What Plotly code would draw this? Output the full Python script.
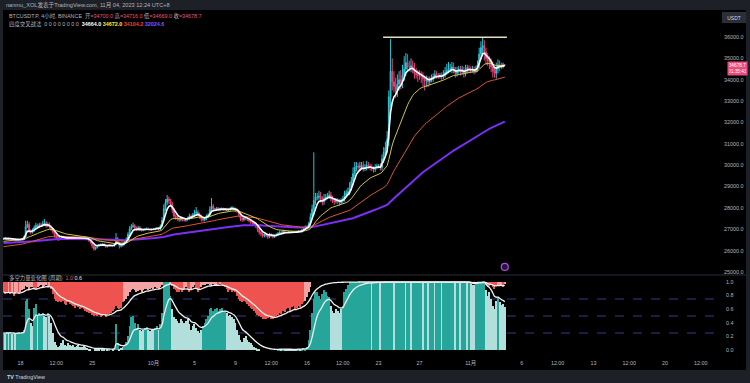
import pandas as pd
import plotly.graph_objects as go

# ---------------- data (BTCUSDT.P 4h) ----------------
first_open = 26550
closes = [
    26560, 26590, 26540, 26570,                      # 09-16 (from 08:00)
    26550, 26530, 26500, 26470, 26510, 26530,        # 09-17
    26520, 26550, 26640, 27120, 27230, 26920,        # 09-18
    26860, 26950, 27080, 27180, 27120, 27210,        # 09-19
    27180, 27250, 27300, 27160, 27220, 27100,        # 09-20
    27000, 26880, 26700, 26600, 26540, 26580,        # 09-21
    26600, 26630, 26580, 26550, 26610, 26580,        # 09-22
    26590, 26610, 26570, 26580, 26600, 26590,        # 09-23
    26580, 26600, 26570, 26540, 26480, 26400,        # 09-24
    26230, 26080, 26150, 26220, 26260, 26290,        # 09-25
    26300, 26250, 26190, 26230, 26260, 26210,        # 09-26
    26230, 26290, 26560, 26350, 26200, 26250,        # 09-27
    26300, 26420, 26540, 26760, 27020, 27130,        # 09-28
    27160, 27060, 27000, 27070, 26990, 26950,        # 09-29
    26980, 27010, 27030, 26990, 26970, 27000,        # 09-30
    27010, 27030, 27060, 27000, 27150, 27420,        # 10-01
    27960, 28260, 28410, 28330, 28180, 27900,        # 10-02
    27620, 27540, 27480, 27440, 27490, 27450,        # 10-03
    27420, 27460, 27510, 27610, 27560, 27660,        # 10-04
    27760, 27800, 27700, 27590, 27480, 27440,        # 10-05
    27500, 27610, 27660, 27920, 28080, 27960,        # 10-06
    27950, 27980, 27910, 27950, 27970, 27930,        # 10-07
    27950, 27900, 27920, 27980, 28010, 27960,        # 10-08
    27900, 27850, 27700, 27500, 27450, 27550,        # 10-09
    27500, 27450, 27400, 27340, 27300, 27250,        # 10-10
    27150, 27000, 26850, 26790, 26700, 26750,        # 10-11
    26700, 26640, 26750, 26700, 26650, 26700,        # 10-12
    26750, 26800, 26850, 26800, 26900, 26850,        # 10-13
    26850, 26870, 26850, 26880, 26860, 26870,        # 10-14
    26870, 26900, 26880, 26950, 27050, 27100,        # 10-15
    27100, 27250, 27600, 27950, 28350, 28500,        # 10-16
    28500, 28550, 28400, 28300, 28450, 28500,        # 10-17
    28550, 28600, 28450, 28350, 28300, 28350,        # 10-18
    28300, 28250, 28350, 28400, 28600, 28700,        # 10-19
    28750, 28950, 29250, 29600, 29900, 29950,        # 10-20
    29900, 29950, 30000, 29850, 29900, 30000,        # 10-21
    29950, 29900, 29850, 29800, 29900, 29950,        # 10-22
    29950, 29900, 30300, 30600, 30800, 31200,        # 10-23
    33200, 34400, 33900, 33700, 33500, 33800,        # 10-24
    34000, 33900, 34200, 34500, 34800, 34600,        # 10-25
    34600, 34650, 34500, 34300, 34250, 34200,        # 10-26
    34200, 34150, 34050, 33950, 34000, 33900,        # 10-27
    34000, 34050, 34150, 34250, 34200, 34150,        # 10-28
    34200, 34150, 34250, 34350, 34450, 34500,        # 10-29
    34500, 34600, 34450, 34300, 34400, 34500,        # 10-30
    34400, 34450, 34300, 34500, 34550, 34500,        # 10-31
    34450, 34500, 34400, 34500, 34700, 35200,        # 11-01
    35500, 35600, 35300, 35000, 34900, 34800,        # 11-02
    34600, 34400, 34300, 34500, 34700, 34650,        # 11-03
    34650, 34700, 34678.7,                           # 11-04
]
wick_up = [
    40, 50, 35, 45,
    30, 40, 35, 30, 45, 40,
    40, 50, 60, 280, 170, 120,
    80, 90, 100, 120, 80, 90,
    100, 150, 180, 100, 110, 90,
    80, 60, 80, 60, 50, 60,
    50, 60, 40, 50, 60, 40,
    30, 40, 35, 30, 40, 30,
    30, 40, 30, 35, 30, 40,
    50, 60, 50, 40, 50, 40,
    50, 40, 50, 40, 50, 40,
    40, 60, 260, 80, 60, 50,
    60, 70, 80, 100, 120, 110,
    150, 80, 70, 90, 80, 70,
    50, 40, 60, 40, 50, 40,
    40, 50, 40, 50, 80, 150,
    200, 150, 190, 120, 100, 90,
    100, 80, 90, 70, 80, 70,
    60, 70, 80, 120, 90, 100,
    150, 240, 100, 80, 90, 70,
    70, 80, 90, 150, 380, 100,
    50, 60, 50, 60, 50, 40,
    40, 60, 50, 60, 70, 50,
    60, 70, 80, 90, 80, 70,
    70, 60, 70, 60, 50, 60,
    60, 70, 60, 70, 60, 50,
    50, 60, 80, 60, 50, 60,
    60, 70, 80, 60, 80, 60,
    40, 50, 40, 50, 40, 30,
    40, 50, 40, 60, 70, 80,
    80, 100, 150, 200, 2250, 200,
    200, 250, 200, 150, 200, 150,
    150, 200, 150, 120, 100, 120,
    100, 120, 100, 150, 200, 150,
    200, 250, 200, 300, 250, 200,
    150, 200, 150, 180, 150, 200,
    150, 120, 150, 100, 150, 120,
    100, 150, 200, 250, 300, 400,
    300, 1500, 600, 500, 400, 450,
    400, 450, 500, 600, 450, 400,
    300, 350, 250, 300, 250, 200,
    250, 200, 200, 150, 200, 150,
    150, 200, 150, 200, 150, 120,
    120, 150, 200, 250, 300, 330,
    250, 230, 200, 150, 200, 150,
    150, 200, 150, 200, 150, 120,
    120, 150, 120, 150, 200, 300,
    300, 390, 250, 200, 250, 200,
    200, 250, 200, 300, 250, 200,
    150, 100, 16,
]
wick_dn = [
    40, 30, 45, 35,
    35, 30, 40, 50, 30, 35,
    40, 35, 50, 40, 60, 90,
    100, 60, 70, 60, 70, 50,
    60, 70, 80, 90, 60, 80,
    80, 90, 100, 80, 90, 60,
    40, 50, 60, 40, 50, 40,
    30, 35, 40, 30, 35, 30,
    30, 40, 35, 50, 60, 80,
    120, 90, 60, 50, 40, 50,
    40, 50, 60, 40, 50, 40,
    40, 50, 40, 60, 100, 50,
    60, 50, 60, 50, 70, 60,
    60, 70, 80, 60, 70, 60,
    40, 50, 40, 50, 40, 50,
    40, 50, 40, 60, 50, 60,
    80, 100, 120, 150, 120, 150,
    120, 90, 80, 90, 70, 80,
    60, 70, 60, 80, 70, 60,
    70, 80, 90, 100, 120, 80,
    70, 80, 60, 90, 100, 120,
    50, 40, 60, 50, 40, 50,
    50, 60, 40, 50, 60, 50,
    90, 80, 100, 120, 100, 80,
    80, 70, 80, 90, 80, 70,
    100, 120, 100, 120, 100, 80,
    80, 100, 60, 70, 80, 60,
    50, 60, 50, 60, 50, 60,
    40, 30, 40, 30, 40, 30,
    30, 40, 50, 40, 50, 60,
    60, 80, 100, 150, 300, 200,
    150, 120, 150, 180, 150, 120,
    100, 120, 150, 120, 150, 100,
    120, 150, 100, 120, 100, 120,
    120, 150, 150, 200, 150, 200,
    200, 150, 180, 150, 120, 150,
    120, 150, 120, 150, 120, 100,
    100, 150, 150, 200, 200, 250,
    300, 500, 400, 300, 350, 300,
    300, 350, 300, 250, 300, 250,
    200, 250, 200, 250, 200, 300,
    200, 300, 350, 450, 300, 250,
    150, 120, 150, 120, 150, 100,
    100, 150, 120, 150, 120, 150,
    150, 200, 150, 200, 150, 120,
    200, 150, 200, 150, 200, 150,
    150, 120, 150, 100, 120, 150,
    250, 300, 400, 300, 250, 300,
    250, 300, 200, 250, 200, 250,
    150, 120, 9.7,
]

# lower pane: green bar height (%) and red bar floor (%), per candle
buy_pct = [
    25, 24, 26, 25,
    26, 24, 25, 23, 25, 26,
    25, 26, 30, 72, 75, 60,
    40, 35, 62, 68, 50, 55,
    52, 55, 50, 48, 55, 50,
    40, 25, 12, 8, 5, 6,
    10, 14, 8, 6, 10, 8,
    6, 8, 5, 6, 7, 5,
    5, 6, 4, 3, 2, 1,
    0, 0, 1, 2, 2, 3,
    2, 1, 0, 1, 2, 0,
    1, 3, 38, 10, 2, 3,
    5, 8, 12, 20, 35, 48,
    50, 40, 32, 38, 30, 28,
    30, 32, 34, 30, 28, 30,
    30, 32, 35, 30, 38, 55,
    100, 100, 100, 100, 80, 60,
    48, 45, 42, 40, 45, 42,
    40, 42, 45, 38, 30, 35,
    38, 32, 28, 25, 30, 35,
    40, 45, 50, 60, 62, 58,
    60, 62, 58, 60, 62, 57,
    58, 55, 50, 52, 48, 45,
    40, 30, 22, 15, 12, 18,
    20, 15, 12, 10, 8, 5,
    3, 2, 1, 0, 0, 0,
    0, 0, 0, 0, 0, 0,
    0, 1, 2, 1, 2, 1,
    1, 1, 1, 1, 1, 1,
    1, 2, 1, 2, 3, 2,
    5, 15, 30, 55, 75, 85,
    85, 80, 75, 82, 88, 85,
    80, 78, 65, 58, 55, 60,
    58, 55, 60, 65, 85, 90,
    95, 100, 100, 100, 100, 100,
    100, 100, 99, 100, 100, 100,
    100, 100, 98, 100, 100, 100,
    100, 99, 100, 100, 100, 100,
    100, 100, 100, 99, 100, 100,
    100, 100, 100, 100, 99, 100,
    100, 99, 100, 100, 100, 100,
    100, 100, 99, 100, 100, 99,
    100, 100, 100, 99, 100, 100,
    100, 99, 100, 100, 100, 100,
    100, 100, 100, 99, 100, 100,
    99, 100, 100, 100, 98, 100,
    97, 95, 96, 98, 100, 100,
    100, 100, 100, 88, 80, 85,
    75, 65, 60, 72, 78, 70,
    66, 68, 63,
]
sell_floor_pct = [
    85, 82, 84, 86,
    83, 85, 80, 84, 86, 82,
    85, 88, 90, 94, 92, 90,
    92, 93, 90, 88, 92, 94,
    95, 93, 94, 96, 92, 94,
    90, 82, 75, 72, 70, 72,
    70, 72, 68, 66, 70, 68,
    66, 64, 62, 65, 63, 60,
    62, 60, 58, 56, 55, 54,
    52, 50, 52, 50, 51, 48,
    50, 52, 49, 51, 53, 55,
    58, 60, 65, 62, 60, 62,
    70, 72, 75, 80, 85, 88,
    90, 88, 85, 87, 88, 86,
    88, 90, 89, 88, 90, 91,
    90, 92, 91, 90, 93, 96,
    100, 100, 100, 100, 98, 94,
    90, 88, 86, 85, 88, 86,
    90, 92, 88, 85, 90, 92,
    95, 90, 85, 88, 92, 95,
    96, 97, 98, 95, 96, 97,
    95, 96, 94, 97, 95, 94,
    92, 90, 86, 88, 85, 87,
    85, 80, 75, 72, 70, 72,
    70, 68, 65, 62, 60, 58,
    55, 52, 50, 48, 46, 45,
    45, 47, 48, 46, 45, 47,
    50, 52, 55, 53, 58, 56,
    60, 62, 58, 63, 65, 60,
    62, 65, 63, 68, 70, 72,
    78, 85, 92, 100, 100, 100,
    100, 100, 100, 100, 100, 100,
    100, 100, 100, 100, 100, 100,
    100, 100, 100, 100, 100, 100,
    100, 100, 100, 100, 100, 100,
    100, 100, 100, 100, 100, 100,
    100, 100, 100, 100, 100, 100,
    100, 100, 100, 100, 100, 100,
    100, 100, 100, 100, 100, 100,
    100, 100, 100, 100, 100, 100,
    100, 100, 100, 100, 100, 100,
    100, 100, 100, 100, 100, 100,
    100, 100, 100, 100, 100, 100,
    100, 100, 100, 100, 100, 100,
    100, 100, 100, 100, 100, 100,
    100, 100, 100, 100, 100, 100,
    98, 97, 100, 98, 100, 100,
    100, 100, 100, 96, 92, 94,
    95, 92, 90, 94, 96, 95,
    96, 93, 97,
]

# moving averages (EMA lengths, starting values read at the left edge)
ma_lengths = [144, 55, 21, 5]
ma_seeds = [26355, 26170, 26420, 26560]
ma_colors = ["#7b2ff7", "#d9553b", "#cfc640", "#ffffff"]
ma_widths = [2.0, 1.0, 1.0, 1.6]
ma_header_values = ["34664.0", "34672.0", "34104.2", "32024.6"]
osc_length = 9

# horizontal drawing (resistance line)
level_price = 35990
level_dates = ["2023-10-23 10:30", "2023-11-04 13:00"]

price_ticks = [25000, 26000, 27000, 28000, 29000, 30000, 31000, 32000,
               33000, 34000, 35000, 36000]
osc_ticks = [0.0, 0.2, 0.4, 0.6, 0.8, 1.0]
osc_levels = [0.25, 0.5, 0.75]
tick_dates = ["2023-09-18", "2023-09-21 12:00", "2023-09-25", "2023-10-01",
              "2023-10-05", "2023-10-09", "2023-10-12 12:00", "2023-10-16",
              "2023-10-19 12:00", "2023-10-23", "2023-10-27", "2023-11-01",
              "2023-11-06", "2023-11-09 12:00", "2023-11-13", "2023-11-16 12:00",
              "2023-11-20", "2023-11-23 12:00"]
tick_labels = ["18", "12:00", "25", "10月", "5", "9", "12:00", "16", "12:00",
               "23", "27", "11月", "6", "12:00", "13", "12:00", "20", "12:00"]

# ---------------- derived ----------------
n = len(closes)
for name, arr in [("wick_up", wick_up), ("wick_dn", wick_dn),
                  ("buy_pct", buy_pct), ("sell_floor_pct", sell_floor_pct)]:
    assert len(arr) == n, f"{name}: {len(arr)} != {n}"

times = pd.date_range("2023-09-16 08:00", periods=n, freq="4h")
opens = [first_open] + closes[:-1]
highs = [max(o, c) + w for o, c, w in zip(opens, closes, wick_up)]
lows = [min(o, c) - w for o, c, w in zip(opens, closes, wick_dn)]


def ema(vals, length, seed):
    a = 2.0 / (length + 1)
    out, e = [], seed
    for v in vals:
        e += a * (v - e)
        out.append(e)
    return out


buy = [v / 100 for v in buy_pct]
sell_floor = [v / 100 for v in sell_floor_pct]
buy_line = ema(buy, osc_length, buy[0])
sell_line = ema(sell_floor, osc_length, sell_floor[0])

G_DARK, G_LIGHT = "#26a69a", "#b2dfdb"
R_DARK, R_LIGHT = "#ef5350", "#f4a3a3"
# shade: strong (dark) when the bar reaches beyond its smoothed line
buy_colors = [G_DARK if b >= bl - 1e-9 else G_LIGHT for b, bl in zip(buy, buy_line)]
sell_colors = [R_DARK if (s <= sl + 1e-9 or 1 - s >= 0.3) else R_LIGHT
               for s, sl in zip(sell_floor, sell_line)]

# ---------------- figure ----------------
W, H = 750, 383
ML, MR, MT, MB = 3, 34, 10, 27
PW, PH = W - ML - MR, H - MT - MB


def px_x(px):
    return (px - ML) / PW


def px_y(py):
    return (H - MB - py) / PH


FONT = "Liberation Sans, Noto Sans CJK SC, sans-serif"
TXT = "#b2b5be"
UP, DOWN = "#2cc3d3", "#e8457a"

fig = go.Figure()
fig.add_trace(go.Candlestick(
    x=times, open=opens, high=highs, low=lows, close=closes,
    increasing=dict(line=dict(color=UP, width=1), fillcolor=UP),
    decreasing=dict(line=dict(color=DOWN, width=1), fillcolor=DOWN),
    whiskerwidth=0, xaxis="x", yaxis="y", showlegend=False, hoverinfo="skip"))

for length, seed, col, wd in zip(ma_lengths, ma_seeds, ma_colors, ma_widths):
    fig.add_trace(go.Scatter(x=times, y=ema(closes, length, seed), mode="lines",
                             line=dict(color=col, width=wd), xaxis="x", yaxis="y",
                             showlegend=False, hoverinfo="skip"))

fig.add_trace(go.Scatter(x=level_dates, y=[level_price, level_price], mode="lines",
                         line=dict(color="#e3e0c2", width=1.5), xaxis="x", yaxis="y",
                         showlegend=False, hoverinfo="skip"))

# small purple event icon under last bar
fig.add_trace(go.Scatter(x=[times[-1]], y=[25235], mode="markers",
                         marker=dict(symbol="circle", size=7, color="#2a0f40",
                                     line=dict(color="#b050e0", width=1.2)),
                         xaxis="x", yaxis="y", showlegend=False, hoverinfo="skip"))

bar_w = 4 * 3600 * 1000 * 0.72
fig.add_trace(go.Bar(x=times, y=buy, base=0, width=bar_w,
                     marker=dict(color=buy_colors, line=dict(width=0)),
                     xaxis="x2", yaxis="y2", showlegend=False, hoverinfo="skip"))
fig.add_trace(go.Bar(x=times, y=[1 - s for s in sell_floor], base=sell_floor, width=bar_w,
                     marker=dict(color=sell_colors, line=dict(width=0)),
                     xaxis="x2", yaxis="y2", showlegend=False, hoverinfo="skip"))
fig.add_trace(go.Scatter(x=times, y=sell_line, mode="lines",
                         line=dict(color="#f0f0f0", width=1.3, shape="spline"),
                         xaxis="x2", yaxis="y2", showlegend=False, hoverinfo="skip"))
fig.add_trace(go.Scatter(x=times, y=buy_line, mode="lines",
                         line=dict(color="#f0f0f0", width=1.3, shape="spline"),
                         xaxis="x2", yaxis="y2", showlegend=False, hoverinfo="skip"))

x_range = ["2023-09-16 06:48", "2023-11-24 23:32"]
main_dom = [px_y(274), 1.0]
low_dom = [0.0, px_y(276)]

shapes = []
FRAME = "#1d2027"
# frame strips
shapes.append(dict(type="rect", xref="paper", yref="paper", x0=-0.02, x1=1.08,
                   y0=1.0, y1=1.05, fillcolor=FRAME, line=dict(width=0), layer="above"))
shapes.append(dict(type="rect", xref="paper", yref="paper", x0=-0.02, x1=1.08,
                   y0=-0.12, y1=px_y(370), fillcolor=FRAME, line=dict(width=0), layer="above"))
shapes.append(dict(type="rect", xref="paper", yref="paper", x0=-0.02, x1=0.0,
                   y0=-0.12, y1=1.05, fillcolor=FRAME, line=dict(width=0), layer="above"))
shapes.append(dict(type="rect", xref="paper", yref="paper", x0=px_x(746), x1=1.08,
                   y0=-0.12, y1=1.05, fillcolor=FRAME, line=dict(width=0), layer="above"))
# pane separator
shapes.append(dict(type="line", xref="paper", yref="paper", x0=0, x1=px_x(746),
                   y0=px_y(275), y1=px_y(275), line=dict(color="#2a2e39", width=1)))
# oscillator levels
for lv in osc_levels:
    shapes.append(dict(type="line", xref="paper", yref="y2", x0=0, x1=1, y0=lv, y1=lv,
                       line=dict(color="#363a86", width=1, dash="dash"), layer="below"))

red_txt = "#ef5472"
hdr1 = ("BTCUSDT.P, 4小时, BINANCE&nbsp;&nbsp;"
        f"开<span style='color:{red_txt}'>={opens[-1]:.1f}</span> "
        f"高<span style='color:{red_txt}'>={highs[-1]:.1f}</span> "
        f"低<span style='color:{red_txt}'>={lows[-1]:.1f}</span> "
        f"收<span style='color:{red_txt}'>={closes[-1]:.1f}</span>")
hdr_cols = ["#ffffff", "#ffeb3b", "#f44336", "#7e57ff"]
hdr2 = "四度交叉战法&nbsp;&nbsp;" + " ".join(["0"] * 8) + "&nbsp;&nbsp;" + " ".join(
    f"<b><span style='color:{c}'>{v}</span></b>" for v, c in zip(ma_header_values, hdr_cols))
hdr3 = ("多空力量变化图 (周期)&nbsp;&nbsp;"
        f"<span style='color:#ef5350'>{sell_floor[-1]:.1f}</span> "
        f"<span style='color:#e0e0e0'>{buy[-1]:.1f}</span>")

annotations = [
    dict(text="nanmu_XOL发表于TradingView.com, 11月 04, 2023 12:24 UTC+8",
         xref="paper", yref="paper", x=px_x(4), y=px_y(5.5), xanchor="left",
         yanchor="middle", showarrow=False, font=dict(size=5.6, color=TXT, family=FONT)),
    dict(text=hdr1, xref="paper", yref="paper", x=px_x(7), y=px_y(16), xanchor="left",
         yanchor="middle", showarrow=False, font=dict(size=5.4, color=TXT, family=FONT)),
    dict(text=hdr2, xref="paper", yref="paper", x=px_x(7), y=px_y(24), xanchor="left",
         yanchor="middle", showarrow=False, font=dict(size=5.4, color=TXT, family=FONT)),
    dict(text=hdr3, xref="paper", yref="paper", x=px_x(7), y=px_y(278), xanchor="left",
         yanchor="middle", showarrow=False, font=dict(size=5.4, color=TXT, family=FONT)),
    dict(text="USDT", xref="paper", yref="paper", x=px_x(733.5), y=px_y(18),
         xanchor="center", yanchor="middle", showarrow=False, bgcolor="#2a2e39",
         bordercolor="#3a3e4a", borderwidth=0.5, borderpad=2, width=19,
         font=dict(size=5, color="#d1d4dc", family=FONT)),
    dict(text=f"{closes[-1]:.1f}<br>01:35:43", xref="paper", yref="y",
         x=px_x(727), y=closes[-1], yshift=-3, xanchor="left", yanchor="middle",
         showarrow=False, bgcolor="#ea4a7c", borderpad=1, width=17, align="center",
         font=dict(size=4.8, color="#ffffff", family=FONT)),
    dict(text="<b>TV</b> TradingView", xref="paper", yref="paper", x=px_x(5),
         y=px_y(377), xanchor="left", yanchor="middle", showarrow=False,
         font=dict(size=5.4, color="#d1d4dc", family=FONT)),
]

axis_font = dict(size=5.4, color=TXT, family=FONT)
fig.update_layout(
    width=W, height=H, margin=dict(l=ML, r=MR, t=MT, b=MB),
    paper_bgcolor="#000000", plot_bgcolor="#000000",
    barmode="overlay", bargap=0, showlegend=False,
    shapes=shapes, annotations=annotations,
    xaxis=dict(domain=[0, 1], anchor="y", type="date", range=x_range,
               showticklabels=False, showgrid=False, zeroline=False, ticks="",
               rangeslider=dict(visible=False), fixedrange=True),
    xaxis2=dict(domain=[0, 1], anchor="y2", type="date", range=x_range, matches="x",
                tickmode="array", tickvals=tick_dates, ticktext=tick_labels,
                showgrid=False, zeroline=False, ticks="", tickfont=axis_font,
                ticklabelstandoff=3, showline=False),
    yaxis=dict(domain=main_dom, anchor="x", side="right", range=[24905, 37265],
               tickmode="array", tickvals=price_ticks,
               ticktext=[f"{v:.1f}" for v in price_ticks], tickfont=axis_font,
               showgrid=False, zeroline=False, ticks="", ticklabelstandoff=7),
    yaxis2=dict(domain=low_dom, anchor="x2", side="right", range=[-0.088, 1.088],
                tickmode="array", tickvals=osc_ticks,
                ticktext=[f"{v:.1f}" for v in osc_ticks], tickfont=axis_font,
                showgrid=False, zeroline=False, ticks="", ticklabelstandoff=9),
)

fig.write_html(
    "out.html",
    config={"displayModeBar": False},
    post_script="document.body.style.margin='0';document.body.style.padding='0';"
                "document.body.style.background='#1d2027';",
)
